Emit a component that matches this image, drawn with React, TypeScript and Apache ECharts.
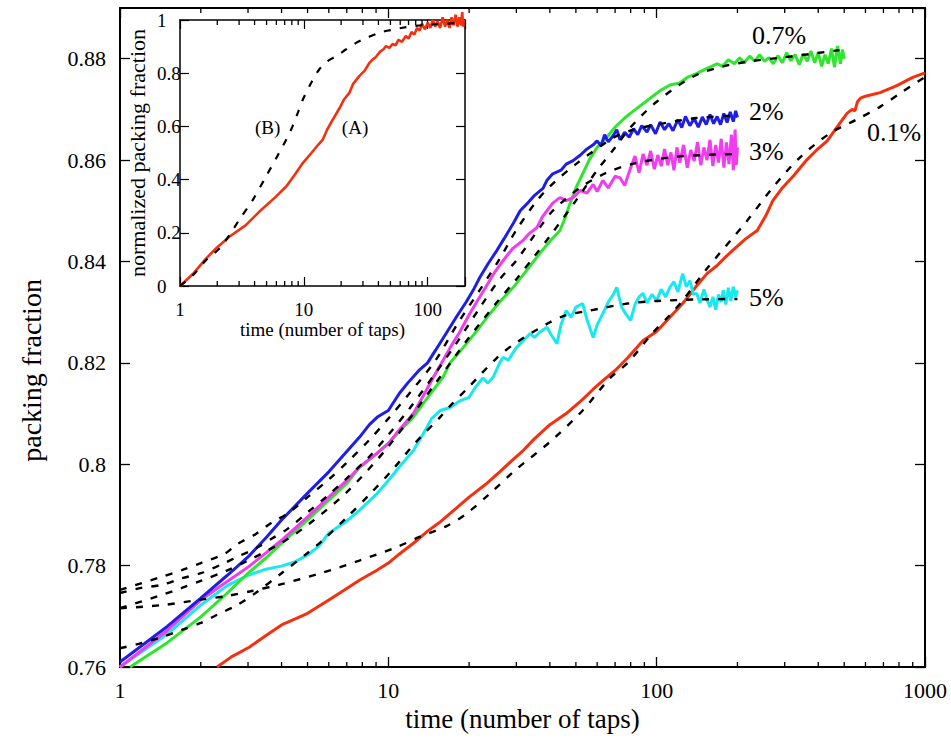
import React, { useEffect, useRef } from "react";
import * as echarts from "echarts";

// ---------- main panel data: [taps, packing fraction] ----------
const blue2pct: [number, number][] = [
  [1, 0.761], [1.5, 0.768], [2, 0.7736], [2.5, 0.778], [3, 0.7817], [3.5, 0.7855], [4, 0.789], [5, 0.7943],
  [6, 0.7985], [7, 0.8025], [7.8, 0.8053], [8.5, 0.8078], [9.1, 0.8093], [10, 0.8106], [11, 0.814], [11.8, 0.816],
  [13, 0.8185], [14, 0.82], [15, 0.8225], [16.5, 0.826], [18, 0.8292], [19.5, 0.832], [20.7, 0.8343], [22, 0.837],
  [23.5, 0.8395], [25.4, 0.8422], [27, 0.8445], [29.2, 0.8475], [31, 0.85], [32.9, 0.8514], [35, 0.853], [37.7, 0.8544],
  [39, 0.856], [41, 0.8573], [44, 0.858], [46, 0.8592], [48.8, 0.8599], [52, 0.861], [55, 0.8622], [58, 0.863],
  [60, 0.8638], [62, 0.8628], [64, 0.865], [66, 0.8636], [68.8, 0.8648], [71, 0.866], [73, 0.864], [76, 0.8655],
  [79, 0.8645], [82, 0.8662], [85, 0.865], [88, 0.8668], [92, 0.8655], [95, 0.867], [99, 0.8652], [103, 0.8675],
  [107, 0.866], [111, 0.8672], [115, 0.8658], [120, 0.868], [124, 0.8664], [128, 0.8686], [133, 0.8668], [138, 0.8682],
  [143, 0.8665], [148, 0.8685], [153, 0.867], [158, 0.869], [163, 0.8672], [168, 0.8686], [173, 0.867], [178, 0.8692],
  [183, 0.8674], [188, 0.8695], [193, 0.8676], [197, 0.8697], [200, 0.8684],
];

const magenta3pct: [number, number][] = [
  [1, 0.76], [1.5, 0.7672], [2, 0.7732], [2.5, 0.7768], [3, 0.7797], [3.5, 0.7825], [4, 0.785], [5, 0.7896],
  [6, 0.7935], [7, 0.7968], [7.8, 0.7994], [9, 0.802], [10, 0.8041], [11, 0.8068], [12.4, 0.81], [13.5, 0.8135],
  [14.7, 0.8171], [16, 0.8205], [17, 0.823], [18.5, 0.8262], [20, 0.8295], [21.5, 0.8323], [23, 0.8348], [25, 0.838],
  [26.8, 0.8402], [29, 0.8425], [31.7, 0.8441], [33.5, 0.8455], [35.8, 0.8467], [37.5, 0.8488], [39, 0.85], [41, 0.8515],
  [43.6, 0.8526], [46, 0.852], [48.8, 0.8526], [52, 0.854], [55, 0.8535], [58, 0.8552], [60, 0.8538], [63, 0.856],
  [66, 0.8545], [70, 0.8568], [73, 0.8565], [76, 0.855], [80, 0.8585], [83, 0.8608], [86, 0.8575], [89, 0.8612],
  [92, 0.859], [95, 0.8618], [98, 0.8582], [101, 0.861], [104, 0.8588], [107, 0.8622], [110, 0.859], [113, 0.8615],
  [116, 0.858], [119, 0.8625], [122, 0.8595], [126, 0.863], [130, 0.8585], [134, 0.862], [138, 0.8598], [142, 0.8635],
  [146, 0.859], [150, 0.8625], [154, 0.86], [158, 0.864], [162, 0.8588], [166, 0.863], [170, 0.8595], [174, 0.8642],
  [178, 0.8585], [182, 0.8635], [186, 0.8592], [190, 0.865], [193, 0.858], [196, 0.866], [198, 0.859], [200, 0.8625],
];

const green07pct: [number, number][] = [
  [1.09, 0.76], [1.5, 0.7648], [2, 0.7699], [2.5, 0.7745], [3, 0.7785], [3.5, 0.7815], [4, 0.7844], [5, 0.789],
  [6, 0.7929], [7, 0.7962], [7.8, 0.7994], [9, 0.802], [10, 0.8041], [11, 0.8065], [12.4, 0.8093], [13.5, 0.812],
  [14.7, 0.8146], [16, 0.8172], [17, 0.82], [19, 0.823], [21.5, 0.8265], [23.9, 0.8297], [26.5, 0.8325], [29.2, 0.8349],
  [32.5, 0.838], [36.7, 0.8416], [40, 0.844], [43.6, 0.8461], [45.5, 0.8485], [47.5, 0.8514], [50, 0.8545], [53, 0.8573],
  [56, 0.86], [60, 0.8625], [65, 0.8644], [70, 0.8665], [76, 0.8683], [82, 0.8697], [92, 0.8717], [103, 0.8737],
  [112, 0.8748], [122, 0.8752], [130, 0.8763], [140, 0.877], [150, 0.8778], [160, 0.8785], [168, 0.879], [176, 0.8785],
  [185, 0.8798], [195, 0.879], [204, 0.8802], [212, 0.8792], [222, 0.8805], [232, 0.8795], [242, 0.8808], [252, 0.8795],
  [262, 0.8802], [272, 0.879], [283, 0.8806], [294, 0.8792], [305, 0.8812], [316, 0.8796], [328, 0.8808], [340, 0.8788],
  [352, 0.881], [364, 0.8795], [376, 0.8815], [388, 0.8792], [400, 0.8812], [412, 0.8785], [424, 0.8808], [436, 0.879],
  [448, 0.882], [460, 0.8783], [472, 0.8825], [484, 0.879], [492, 0.8818], [500, 0.88],
];

const cyan5pct: [number, number][] = [
  [1, 0.76], [1.5, 0.7665], [2, 0.7722], [2.5, 0.776], [3, 0.7781], [3.5, 0.7793], [4, 0.7799], [4.5, 0.7808],
  [5, 0.7821], [5.5, 0.7838], [6, 0.7864], [7, 0.7888], [7.8, 0.7909], [9, 0.794], [10, 0.7968], [11, 0.7995],
  [12.4, 0.8027], [13.5, 0.806], [14.5, 0.809], [15.6, 0.8106], [17, 0.8112], [18.5, 0.8125], [20, 0.8132], [21, 0.815],
  [22.5, 0.817], [23.5, 0.816], [24.6, 0.8172], [26, 0.82], [26.8, 0.8211], [28, 0.8205], [30, 0.823], [32, 0.8245],
  [33.8, 0.8258], [35, 0.825], [37, 0.8262], [39, 0.827], [40.5, 0.8255], [42.5, 0.8238], [44, 0.8275], [46, 0.8303],
  [48, 0.829], [50, 0.831], [53, 0.8317], [55, 0.8285], [58, 0.825], [60, 0.8275], [63, 0.8297], [66, 0.832],
  [69, 0.8335], [71, 0.8349], [74, 0.831], [77, 0.8295], [80, 0.8284], [83, 0.8315], [86, 0.833], [89, 0.8337],
  [92, 0.8318], [96, 0.8335], [100, 0.8323], [104, 0.8345], [108, 0.833], [112, 0.8349], [116, 0.836], [120, 0.834],
  [125, 0.8376], [129, 0.835], [133, 0.8362], [137, 0.8335], [141, 0.8337], [145, 0.8318], [150, 0.8345], [154, 0.8325],
  [158, 0.831], [162, 0.833], [166, 0.8305], [170, 0.8335], [174, 0.832], [177, 0.8343], [181, 0.8315], [185, 0.8348],
  [189, 0.8322], [193, 0.835], [197, 0.833], [200, 0.8343],
];

const red01pct: [number, number][] = [
  [2.3, 0.76], [2.6, 0.762], [3.03, 0.7639], [3.5, 0.7662], [4, 0.7683], [4.5, 0.7695], [5, 0.7706], [6, 0.7732],
  [7, 0.7755], [7.8, 0.7771], [9, 0.779], [10, 0.7805], [11, 0.7823], [12.4, 0.7844], [14, 0.7868], [15.5, 0.7885],
  [17, 0.7903], [20, 0.7935], [23, 0.796], [26, 0.7985], [29, 0.8008], [31.8, 0.8027], [35, 0.805], [40, 0.8078],
  [46, 0.81], [53, 0.8128], [58, 0.8148], [63, 0.8165], [70, 0.8185], [78, 0.821], [89, 0.8244], [100, 0.8262],
  [112, 0.829], [125, 0.8317], [140, 0.835], [154, 0.8376], [168, 0.8392], [180, 0.8408], [192, 0.8422], [215, 0.8445],
  [237, 0.8461], [255, 0.849], [271, 0.852], [295, 0.8546], [325, 0.857], [362, 0.86], [395, 0.862], [432, 0.8638],
  [470, 0.8665], [512, 0.8692], [535, 0.87], [548, 0.8697], [560, 0.8715], [575, 0.8722], [600, 0.8726], [680, 0.8733],
  [785, 0.8747], [900, 0.8763], [1000, 0.8772],
];

// ---------- fitted curves (dashed) ----------
const blueFit: [number, number][] = [
  [1, 0.7752], [1.43, 0.7778], [1.7, 0.7791], [2, 0.7805], [2.45, 0.7823], [2.73, 0.7842], [3.2, 0.7862], [3.7, 0.7886],
  [4.2, 0.7902], [5, 0.7935], [6, 0.797], [7, 0.8003], [8.5, 0.8048], [10, 0.809], [12, 0.814], [15, 0.8205],
  [18, 0.8275], [22, 0.8345], [26, 0.8405], [30, 0.8462], [35.8, 0.852], [40, 0.8548], [50, 0.8592], [69, 0.8644],
  [82, 0.866], [100, 0.867], [141, 0.8683], [200, 0.8688],
];
const magentaFit: [number, number][] = [
  [1, 0.7746], [1.2, 0.7756], [1.43, 0.7762], [1.7, 0.7775], [2, 0.7785], [2.45, 0.7805], [2.73, 0.7817], [3.2, 0.7834],
  [3.7, 0.7854], [4.2, 0.7872], [5, 0.7905], [6, 0.794], [7, 0.7972], [8.5, 0.8015], [10, 0.8058], [12, 0.811],
  [15, 0.818], [18, 0.824], [22, 0.831], [26, 0.8365], [30, 0.8402], [36.7, 0.8467], [41, 0.85], [52, 0.8546],
  [65, 0.8575], [82, 0.8593], [115, 0.8606], [150, 0.861], [200, 0.8612],
];
const greenFit: [number, number][] = [
  [1, 0.7716], [1.43, 0.7742], [1.7, 0.7756], [2, 0.777], [2.5, 0.779], [3, 0.781], [4, 0.7845], [5, 0.788],
  [7, 0.7945], [10, 0.8035], [15, 0.816], [20, 0.825], [25, 0.8315], [30, 0.8365], [35, 0.841], [40, 0.845],
  [50, 0.852], [60, 0.858], [70, 0.8625], [80, 0.8665], [100, 0.8715], [137, 0.8765], [177, 0.8785], [224, 0.8795],
  [290, 0.8802], [383, 0.881], [480, 0.8817],
];
const cyanFit: [number, number][] = [
  [1, 0.7637], [1.2, 0.7647], [1.43, 0.7659], [1.7, 0.7673], [2, 0.7687], [2.3, 0.7703], [2.73, 0.7722], [3.2, 0.7746],
  [4, 0.7785], [5, 0.7825], [5.7, 0.785], [7, 0.7895], [8.5, 0.794], [10.4, 0.799], [12.5, 0.804], [15.6, 0.8093],
  [17, 0.8115], [20, 0.8153], [25.4, 0.821], [30, 0.824], [40, 0.828], [46, 0.8294], [56, 0.8303], [78, 0.8317],
  [100, 0.8322], [140, 0.8325], [200, 0.8326],
];
const redFit: [number, number][] = [
  [1, 0.7716], [1.43, 0.7722], [2, 0.7733], [2.5, 0.774], [3.1, 0.775], [3.9, 0.7762], [5.6, 0.7785], [7.8, 0.781],
  [10.8, 0.7837], [13, 0.7856], [16.5, 0.7878], [19.6, 0.7903], [24, 0.7943], [30, 0.799], [40, 0.8044], [53, 0.8106],
  [67, 0.817], [78, 0.82], [97, 0.826], [112, 0.8294], [125, 0.8323], [154, 0.8386], [217, 0.848], [271, 0.8546],
  [343, 0.8606], [443, 0.8653], [556, 0.868], [680, 0.8705], [826, 0.8735], [1000, 0.8764],
];

// ---------- inset data: [taps, normalized packing fraction] ----------
const insetA: [number, number][] = [
  [1, 0], [1.3, 0.05], [1.6, 0.1], [1.95, 0.141], [2.5, 0.185], [3.4, 0.229], [4.5, 0.285], [5.95, 0.336],
  [7.2, 0.374], [8.5, 0.42], [9.8, 0.462], [11.5, 0.5], [13, 0.53], [14.2, 0.55], [15.5, 0.59], [17.1, 0.625],
  [19.5, 0.67], [21, 0.7], [23.3, 0.726], [25, 0.76], [28, 0.789], [31, 0.81], [34, 0.84], [36, 0.852],
  [38, 0.86], [41, 0.88], [44, 0.89], [46, 0.902], [49, 0.895], [52, 0.91], [55, 0.905], [58, 0.925],
  [62, 0.918], [66.6, 0.94], [70, 0.93], [74, 0.955], [78, 0.945], [82, 0.97], [86, 0.96], [90, 0.985],
  [95, 0.965], [100, 0.99], [105, 0.97], [110, 1.0], [115, 0.975], [120, 0.995], [126, 0.97], [132, 1.01],
  [138, 0.975], [144, 1.0], [150, 0.97], [156, 1.01], [162, 0.98], [168, 1.02], [174, 0.975], [180, 1.01],
  [186, 0.98], [190, 1.03], [193, 0.975], [195, 1.0],
];
const insetB: [number, number][] = [
  [1, 0], [1.3, 0.045], [1.62, 0.097], [2.08, 0.141], [2.5, 0.19], [3, 0.248], [3.86, 0.323], [4.94, 0.411],
  [6.3, 0.5], [7.2, 0.55], [8.1, 0.6], [9, 0.655], [9.8, 0.7], [11.5, 0.765], [13.3, 0.814], [15.5, 0.845],
  [18.2, 0.864], [22, 0.89], [26.4, 0.914], [33, 0.935], [40.6, 0.952], [50, 0.962], [62.6, 0.971], [80, 0.978],
  [116, 0.984], [195, 0.99],
];

// ---------- ticks & labels ----------
const mainDecades = [1, 10, 100, 1000];
const mainMinor = [2, 3, 4, 5, 6, 7, 8, 9, 20, 30, 40, 50, 60, 70, 80, 90, 200, 300, 400, 500, 600, 700, 800, 900];
const insetMinor = [2, 3, 4, 5, 6, 7, 8, 9, 20, 30, 40, 50, 60, 70, 80, 90];
const curveNames = ["0.7%", "2%", "3%", "5%", "0.1%"];
const insetNames = ["(B)", "(A)"];
const yTitle = "packing fraction";

const SERIF = "Liberation Serif";
const COLORS = { blue: "#1e1ee8", magenta: "#f23cf0", green: "#2ee62e", cyan: "#18e8f0", red: "#f5300f" };

function decadeLabel(v: number) {
  const r = Math.round(v);
  return mainDecades.includes(r) && Math.abs(v - r) < 1e-6 * r + 1e-6 ? String(r) : "";
}

export default function App() {
  const ref = useRef<HTMLDivElement>(null);

  useEffect(() => {
    const chart = echarts.init(ref.current!, null, { renderer: "svg" });

    const minorTicks = (len: number) => (params: any, api: any) => {
      const cs = params.coordSys;
      const x = api.coord([api.value(0), api.value(1)])[0];
      const yb = cs.y + cs.height;
      const yt = cs.y;
      return {
        type: "group",
        children: [
          { type: "line", shape: { x1: x, y1: yb, x2: x, y2: yb - len }, style: { stroke: "#000", lineWidth: 1.3 } },
          { type: "line", shape: { x1: x, y1: yt, x2: x, y2: yt + len }, style: { stroke: "#000", lineWidth: 1.3 } },
        ],
      };
    };

    const dataLine = (data: [number, number][], color: string, xi = 0, width = 3) => ({
      type: "line",
      xAxisIndex: xi,
      yAxisIndex: xi,
      data,
      showSymbol: false,
      symbol: "none",
      lineStyle: { color, width },
      z: 3,
    });
    const fitLine = (data: [number, number][], xi = 0, width = 2.4) => ({
      type: "line",
      xAxisIndex: xi,
      yAxisIndex: xi,
      data,
      smooth: 0.3,
      symbol: "none",
      lineStyle: { color: "#000", width, type: [7, 9] },
      z: 4,
    });

    // anchor points (data coordinates) of the curve annotations
    const mainLabelPts = [
      [286, 0.8845],
      [256, 0.8695],
      [256, 0.8617],
      [256, 0.8329],
      [767, 0.8654],
    ];
    const insetLabelPts = [
      [5.1, 0.594],
      [25.9, 0.594],
    ];

    const axisLine = (w: number) => ({ show: true, onZero: false, lineStyle: { color: "#000", width: w } });

    chart.setOption({
      animation: false,
      backgroundColor: "#fff",
      grid: [
        { left: 120, top: 8, width: 805, height: 659 },
        { left: 180, top: 20, width: 285, height: 266 },
      ],
      xAxis: [
        {
          type: "log", logBase: 10, gridIndex: 0, min: 1, max: 1000, position: "bottom",
          axisLine: axisLine(2),
          axisTick: { show: true, inside: true, length: 10, lineStyle: { color: "#000", width: 1.3 } },
          axisLabel: { color: "#000", fontFamily: SERIF, fontSize: 22, margin: 12, formatter: decadeLabel },
          splitLine: { show: false },
          name: "time (number of taps)", nameLocation: "middle", nameGap: 37,
          nameTextStyle: { color: "#000", fontFamily: SERIF, fontSize: 27 },
        },
        {
          type: "log", logBase: 10, gridIndex: 0, min: 1, max: 1000, position: "top",
          axisLine: axisLine(2),
          axisTick: { show: true, inside: true, length: 10, lineStyle: { color: "#000", width: 1.3 } },
          axisLabel: { show: false }, splitLine: { show: false },
        },
        {
          type: "log", logBase: 10, gridIndex: 1, min: 1, max: 200, position: "bottom",
          axisLine: axisLine(1.5),
          axisTick: { show: true, inside: true, length: 9, lineStyle: { color: "#000", width: 1.2 } },
          axisLabel: { color: "#000", fontFamily: SERIF, fontSize: 19, margin: 14, formatter: decadeLabel },
          splitLine: { show: false },
          name: "time (number of taps)", nameLocation: "middle", nameGap: 34,
          nameTextStyle: { color: "#000", fontFamily: SERIF, fontSize: 19 },
        },
        {
          type: "log", logBase: 10, gridIndex: 1, min: 1, max: 200, position: "top",
          axisLine: axisLine(1.5),
          axisTick: { show: true, inside: true, length: 9, lineStyle: { color: "#000", width: 1.2 } },
          axisLabel: { show: false }, splitLine: { show: false },
        },
      ],
      yAxis: [
        {
          type: "value", gridIndex: 0, min: 0.76, max: 0.89, interval: 0.02, position: "left",
          axisLine: axisLine(2),
          axisTick: { show: true, inside: true, length: 10, lineStyle: { color: "#000", width: 1.3 } },
          axisLabel: { color: "#000", fontFamily: SERIF, fontSize: 22, margin: 14, showMaxLabel: false },
          splitLine: { show: false },
        },
        {
          type: "value", gridIndex: 0, min: 0.76, max: 0.89, interval: 0.02, position: "right",
          axisLine: axisLine(2),
          axisTick: { show: true, inside: true, length: 10, lineStyle: { color: "#000", width: 1.3 } },
          axisLabel: { show: false }, splitLine: { show: false },
        },
        {
          type: "value", gridIndex: 1, min: 0, max: 1, interval: 0.2, position: "left",
          axisLine: axisLine(1.5),
          axisTick: { show: true, inside: true, length: 9, lineStyle: { color: "#000", width: 1.2 } },
          axisLabel: { color: "#000", fontFamily: SERIF, fontSize: 19, margin: 23, align: "left" },
          splitLine: { show: false },
          name: "normalized packing fraction", nameLocation: "middle", nameGap: 32, nameRotate: 90,
          nameTextStyle: { color: "#000", fontFamily: SERIF, fontSize: 22 },
        },
        {
          type: "value", gridIndex: 1, min: 0, max: 1, interval: 0.2, position: "right",
          axisLine: axisLine(1.5),
          axisTick: { show: true, inside: true, length: 9, lineStyle: { color: "#000", width: 1.2 } },
          axisLabel: { show: false }, splitLine: { show: false },
        },
      ],
      series: [
        dataLine(red01pct, COLORS.red),
        dataLine(cyan5pct, COLORS.cyan),
        dataLine(green07pct, COLORS.green),
        dataLine(magenta3pct, COLORS.magenta),
        dataLine(blue2pct, COLORS.blue),
        fitLine(redFit),
        fitLine(cyanFit),
        fitLine(greenFit),
        fitLine(magentaFit),
        fitLine(blueFit),
        { ...dataLine(insetA, COLORS.red, 2, 2.6), clip: false },
        fitLine(insetB, 2, 2.2),
        {
          type: "custom", xAxisIndex: 0, yAxisIndex: 0, clip: false,
          data: mainMinor.map((v) => [v, 0.8]),
          renderItem: minorTicks(5), z: 5,
        },
        {
          type: "custom", xAxisIndex: 2, yAxisIndex: 2, clip: false,
          data: insetMinor.map((v) => [v, 0.5]),
          renderItem: minorTicks(5), z: 5,
        },
      ],
    });

    // curve annotations, positioned through the axes' own scales
    const texts: any[] = [];
    curveNames.forEach((n, i) => {
      const p = chart.convertToPixel({ xAxisIndex: 0, yAxisIndex: 0 }, mainLabelPts[i]) as number[];
      texts.push({
        type: "text", x: p[0], y: p[1], z: 10,
        style: { text: n, fill: "#000", font: `26px ${SERIF}`, align: "center", verticalAlign: "middle" },
      });
    });
    insetNames.forEach((n, i) => {
      const p = chart.convertToPixel({ xAxisIndex: 2, yAxisIndex: 2 }, insetLabelPts[i]) as number[];
      texts.push({
        type: "text", x: p[0], y: p[1], z: 10,
        style: { text: n, fill: "#000", font: `19px ${SERIF}`, align: "center", verticalAlign: "middle" },
      });
    });
    // main y-axis title, centred beside the 0.80 - 0.84 span as in the original
    const yt = chart.convertToPixel({ xAxisIndex: 0, yAxisIndex: 0 }, [1, 0.8185]) as number[];
    texts.push({
      type: "text", x: 31, y: yt[1], rotation: Math.PI / 2, z: 10,
      style: { text: yTitle, fill: "#000", font: `28px ${SERIF}`, align: "center", verticalAlign: "middle" },
    });
    chart.setOption({ graphic: texts });

    return () => chart.dispose();
  }, []);

  return (
    <div
      ref={ref}
      style={{ position: "fixed", left: 0, top: 0, width: 951, height: 738, background: "#fff" }}
    />
  );
}
